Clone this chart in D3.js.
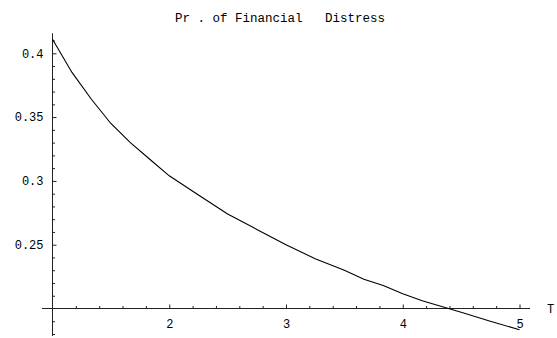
<!DOCTYPE html>
<html>
<head>
<meta charset="utf-8">
<script src="https://cdn.jsdelivr.net/npm/d3@7"></script>
<style>
  body { margin: 0; background: #fff; }
  text { font-family: "Liberation Mono", "DejaVu Sans Mono", monospace; fill: #000; }
</style>
</head>
<body>
<div id="chart"></div>
<script>

// Curve: probability of financial distress against T
var tValues = [1.0, 1.167, 1.333, 1.5, 1.667, 1.833, 2.0, 2.25, 2.5, 2.75, 3.0,
               3.25, 3.5, 3.667, 3.833, 4.0, 4.167, 4.333, 4.5, 4.75, 5.0];
var prValues = [0.411, 0.385, 0.364, 0.345, 0.330, 0.317, 0.304, 0.289, 0.274, 0.262, 0.250,
                0.239, 0.230, 0.223, 0.218, 0.2115, 0.206, 0.2015, 0.197, 0.190, 0.1833];

var xMajor = [2, 3, 4, 5];
var yMajor = [0.25, 0.3, 0.35, 0.4];
var chartTitle = "Pr . of Financial   Distress";
var xLabel = "T";

var width = 557, height = 338;

var svg = d3.select("#chart")
  .append("svg")
  .attr("width", width)
  .attr("height", height);

// Scales
var x = d3.scaleLinear().domain([1, 5]).range([52.5, 519.5]);
var y = d3.scaleLinear().domain([0.2, 0.4]).range([308.5, 53.3]);

var axisColor = "#222";

// minor ticks every 0.2 on T and every 0.01 on the vertical axis
var xMinor = d3.range(1.2, 5.01, 0.2).filter(function(t) {
  return xMajor.every(function(m) { return Math.abs(m - t) > 1e-6; });
});
var yMinor = d3.range(0.18, 0.416, 0.01).filter(function(v) {
  return Math.abs(v - 0.2) > 1e-6 && yMajor.every(function(m) { return Math.abs(m - v) > 1e-6; });
});

// X axis
var gx = svg.append("g").attr("transform", "translate(0," + y(0.2) + ")");
gx.call(d3.axisBottom(x).tickValues(xMajor).tickSize(-4).tickPadding(10.5)
  .tickFormat(d3.format("d")));
gx.append("g").call(d3.axisBottom(x).tickValues(xMinor).tickSize(-2.5).tickFormat(""));
gx.selectAll(".domain").remove();
gx.append("line")
  .attr("x1", x(0.91)).attr("x2", x(5.09))
  .attr("stroke", axisColor);

// Y axis
var gy = svg.append("g").attr("transform", "translate(" + x(1) + ",0)");
gy.call(d3.axisLeft(y).tickValues(yMajor).tickSize(-4).tickPadding(9)
  .tickFormat(function(d) { return String(d); }));
gy.append("g").call(d3.axisLeft(y).tickValues(yMinor).tickSize(-2.5).tickFormat(""));
gy.selectAll(".domain").remove();
gy.append("line")
  .attr("y1", y(0.4157)).attr("y2", y(0.1785))
  .attr("stroke", axisColor);

svg.selectAll(".tick line").attr("stroke", axisColor);
svg.selectAll(".tick text")
  .style("font-family", "'Liberation Mono', monospace")
  .style("font-size", "12px")
  .attr("fill", "#000");

// Axis label
svg.append("text")
  .attr("x", 547)
  .attr("y", 313)
  .style("font-size", "12px")
  .text(xLabel);

// Title
svg.append("text")
  .attr("x", 280)
  .attr("y", 22)
  .attr("text-anchor", "middle")
  .style("font-size", "12.5px")
  .style("white-space", "pre")
  .text(chartTitle);

// Curve
var line = d3.line()
  .x(function(d, i) { return x(tValues[i]); })
  .y(function(d) { return y(d); });

svg.append("path")
  .datum(prValues)
  .attr("d", line)
  .attr("fill", "none")
  .attr("stroke", "#000")
  .attr("stroke-width", 1.1);

</script>
</body>
</html>
